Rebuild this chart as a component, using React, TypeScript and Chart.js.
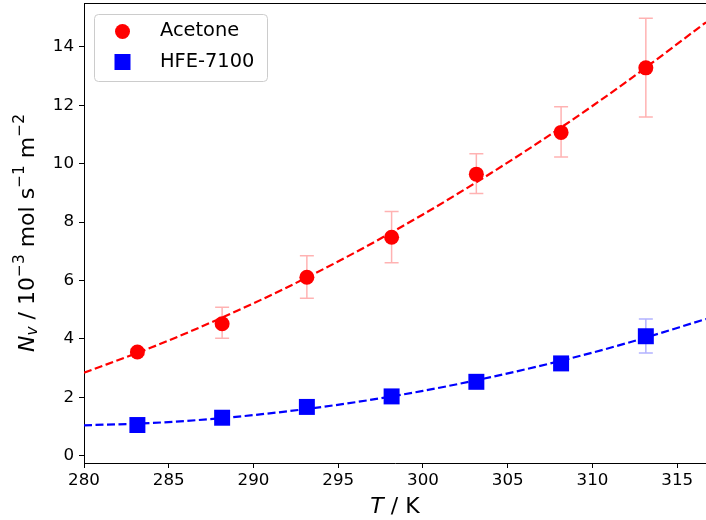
import React, { useEffect, useRef } from "react";
import { Chart, registerables } from "chart.js";

Chart.register(...registerables);

// Measured temperatures (K)
const temps = [283.15, 288.15, 293.15, 298.15, 303.15, 308.15, 313.15];
// Acetone flux values and error range
const acetone = [3.55, 4.52, 6.11, 7.48, 9.64, 11.07, 13.28];
const acetoneLow = [3.45, 4.02, 5.39, 6.61, 8.98, 10.23, 11.6];
const acetoneHigh = [3.65, 5.08, 6.85, 8.36, 10.34, 11.95, 14.98];
// HFE-7100 flux values and error range
const hfe = [1.05, 1.3, 1.67, 2.03, 2.53, 3.16, 4.09];
const hfeLow = [1.0, 1.25, 1.6, 1.96, 2.45, 3.06, 3.52];
const hfeHigh = [1.1, 1.35, 1.74, 2.1, 2.61, 3.26, 4.68];
// Fitted curves
const fitT = [280, 284, 288, 292, 296, 300, 304, 308, 312, 316.7];
const acetoneFit = [2.84, 3.71, 4.69, 5.77, 6.96, 8.26, 9.67, 11.18, 12.8, 14.84];
const hfeFit = [1.04, 1.12, 1.28, 1.52, 1.83, 2.22, 2.69, 3.23, 3.85, 4.68];
// Axis ranges and ticks
const xRange = [280, 316.7];
const yRange = [-0.25, 15.5];
const xStep = 5;
const yStep = 2;

const FONT = "'DejaVu Sans', sans-serif";

type Seg = { t: string; it?: boolean; s?: "sub" | "sup" };

function drawRich(ctx: CanvasRenderingContext2D, segs: Seg[], size: number) {
  const parts = segs.map((sg) => {
    const sz = sg.s ? size * 0.7 : size;
    const f = `${sg.it ? "italic " : ""}${sz}px ${FONT}`;
    ctx.font = f;
    return { ...sg, f, w: ctx.measureText(sg.t).width };
  });
  const total = parts.reduce((a, p) => a + p.w, 0);
  let x = -total / 2;
  ctx.textBaseline = "middle";
  ctx.textAlign = "left";
  for (const p of parts) {
    ctx.font = p.f;
    let dy = 0;
    if (p.s === "sub") dy = size * 0.22;
    if (p.s === "sup") dy = -size * 0.36;
    ctx.fillText(p.t, x, dy);
    x += p.w;
  }
}

const extras = {
  id: "extras",
  beforeDatasetsDraw(chart: any) {
    const ctx = chart.ctx;
    const xs = chart.scales.x;
    const ys = chart.scales.y;
    const bars = [
      { lo: acetoneLow, hi: acetoneHigh, c: "rgba(255,0,0,0.3)" },
      { lo: hfeLow, hi: hfeHigh, c: "rgba(0,0,255,0.3)" },
    ];
    ctx.save();
    ctx.lineWidth = 1.5;
    for (const b of bars) {
      ctx.strokeStyle = b.c;
      temps.forEach((t, i) => {
        const px = xs.getPixelForValue(t);
        const y1 = ys.getPixelForValue(b.lo[i]);
        const y2 = ys.getPixelForValue(b.hi[i]);
        ctx.beginPath();
        ctx.moveTo(px, y1);
        ctx.lineTo(px, y2);
        ctx.moveTo(px - 7, y1);
        ctx.lineTo(px + 7, y1);
        ctx.moveTo(px - 7, y2);
        ctx.lineTo(px + 7, y2);
        ctx.stroke();
      });
    }
    ctx.restore();
  },
  afterDraw(chart: any) {
    const ctx = chart.ctx;
    const a = chart.chartArea;
    ctx.save();
    // top spine
    ctx.strokeStyle = "#000";
    ctx.lineWidth = 1;
    ctx.beginPath();
    ctx.moveTo(a.left, a.top + 0.5);
    ctx.lineTo(a.right, a.top + 0.5);
    ctx.stroke();

    // legend
    const lx = 94.5, ly = 14.5, lw = 173, lh = 67, r = 4;
    ctx.beginPath();
    ctx.moveTo(lx + r, ly);
    ctx.lineTo(lx + lw - r, ly);
    ctx.arcTo(lx + lw, ly, lx + lw, ly + r, r);
    ctx.lineTo(lx + lw, ly + lh - r);
    ctx.arcTo(lx + lw, ly + lh, lx + lw - r, ly + lh, r);
    ctx.lineTo(lx + r, ly + lh);
    ctx.arcTo(lx, ly + lh, lx, ly + lh - r, r);
    ctx.lineTo(lx, ly + r);
    ctx.arcTo(lx, ly, lx + r, ly, r);
    ctx.closePath();
    ctx.fillStyle = "rgba(255,255,255,0.8)";
    ctx.fill();
    ctx.strokeStyle = "#cccccc";
    ctx.stroke();

    ctx.fillStyle = "#ff0000";
    ctx.beginPath();
    ctx.arc(122.5, 31.5, 7.5, 0, Math.PI * 2);
    ctx.fill();
    ctx.fillStyle = "#0000ff";
    ctx.fillRect(122.5 - 8, 62 - 8, 16, 16);

    ctx.fillStyle = "#000";
    ctx.font = `19.4px ${FONT}`;
    ctx.textBaseline = "middle";
    ctx.textAlign = "left";
    ctx.fillText("Acetone", 160, 31);
    ctx.fillText("HFE-7100", 160, 62);

    // axis titles
    ctx.save();
    ctx.translate((a.left + a.right) / 2, 507);
    drawRich(ctx, [{ t: "T", it: true }, { t: " / K" }], 22);
    ctx.restore();

    ctx.save();
    ctx.translate(28, (a.top + a.bottom) / 2);
    ctx.rotate(-Math.PI / 2);
    drawRich(
      ctx,
      [
        { t: "N", it: true },
        { t: "v", it: true, s: "sub" },
        { t: " / 10" },
        { t: "\u22123", s: "sup" },
        { t: " mol s" },
        { t: "\u22121", s: "sup" },
        { t: " m" },
        { t: "\u22122", s: "sup" },
      ],
      22
    );
    ctx.restore();
    ctx.restore();
  },
};

const zeroPad = (s: any) => {
  s.paddingTop = 0;
  s.paddingBottom = 0;
  s.paddingLeft = 0;
  s.paddingRight = 0;
};

export default function App() {
  const ref = useRef<HTMLCanvasElement | null>(null);
  useEffect(() => {
    if (!ref.current) return;
    const toXY = (xs: number[], ys: number[]) => xs.map((x, i) => ({ x, y: ys[i] }));
    const chart = new Chart(ref.current, {
      type: "scatter",
      data: {
        datasets: [
          {
            label: "Acetone",
            data: toXY(temps, acetone),
            backgroundColor: "#ff0000",
            borderColor: "#ff0000",
            pointStyle: "circle",
            pointRadius: 7.5,
            borderWidth: 0,
            order: 0,
          },
          {
            label: "HFE-7100",
            data: toXY(temps, hfe),
            backgroundColor: "#0000ff",
            borderColor: "#0000ff",
            pointStyle: "rect",
            pointRadius: 11.3,
            borderWidth: 0,
            order: 0,
          },
          {
            label: "Acetone fit",
            data: toXY(fitT, acetoneFit),
            showLine: true,
            pointRadius: 0,
            borderColor: "#ff0000",
            borderWidth: 2.2,
            borderDash: [8, 3.5],
            cubicInterpolationMode: "monotone",
            order: 1,
          },
          {
            label: "HFE fit",
            data: toXY(fitT, hfeFit),
            showLine: true,
            pointRadius: 0,
            borderColor: "#0000ff",
            borderWidth: 2.2,
            borderDash: [8, 3.5],
            cubicInterpolationMode: "monotone",
            order: 1,
          },
        ] as any,
      },
      options: {
        animation: false,
        responsive: false,
        layout: { autoPadding: false, padding: { top: 3, right: 0, left: 0, bottom: 0 } },
        plugins: { legend: { display: false }, tooltip: { enabled: false } },
        scales: {
          x: {
            type: "linear",
            min: xRange[0],
            max: xRange[1],
            ticks: {
              stepSize: xStep,
              includeBounds: false,
              color: "#000",
              font: { family: FONT, size: 16.7 },
              padding: 3,
              maxRotation: 0,
            },
            grid: { drawOnChartArea: false, drawTicks: true, tickLength: 5, color: "#000" },
            border: { display: true, color: "#000", width: 1 },
            afterFit: (s: any) => {
              s.height = 57;
              zeroPad(s);
            },
          },
          y: {
            type: "linear",
            min: yRange[0],
            max: yRange[1],
            ticks: {
              stepSize: yStep,
              includeBounds: false,
              color: "#000",
              font: { family: FONT, size: 16.7 },
              padding: 5,
            },
            grid: { drawOnChartArea: false, drawTicks: true, tickLength: 5, color: "#000" },
            border: { display: true, color: "#000", width: 1 },
            afterFit: (s: any) => {
              s.width = 84;
              zeroPad(s);
            },
          },
        },
      } as any,
      plugins: [extras],
    });
    return () => chart.destroy();
  }, []);
  return (
    <canvas
      ref={ref}
      width={706}
      height={520}
      style={{ position: "absolute", left: 0, top: 0, display: "block" }}
    />
  );
}
